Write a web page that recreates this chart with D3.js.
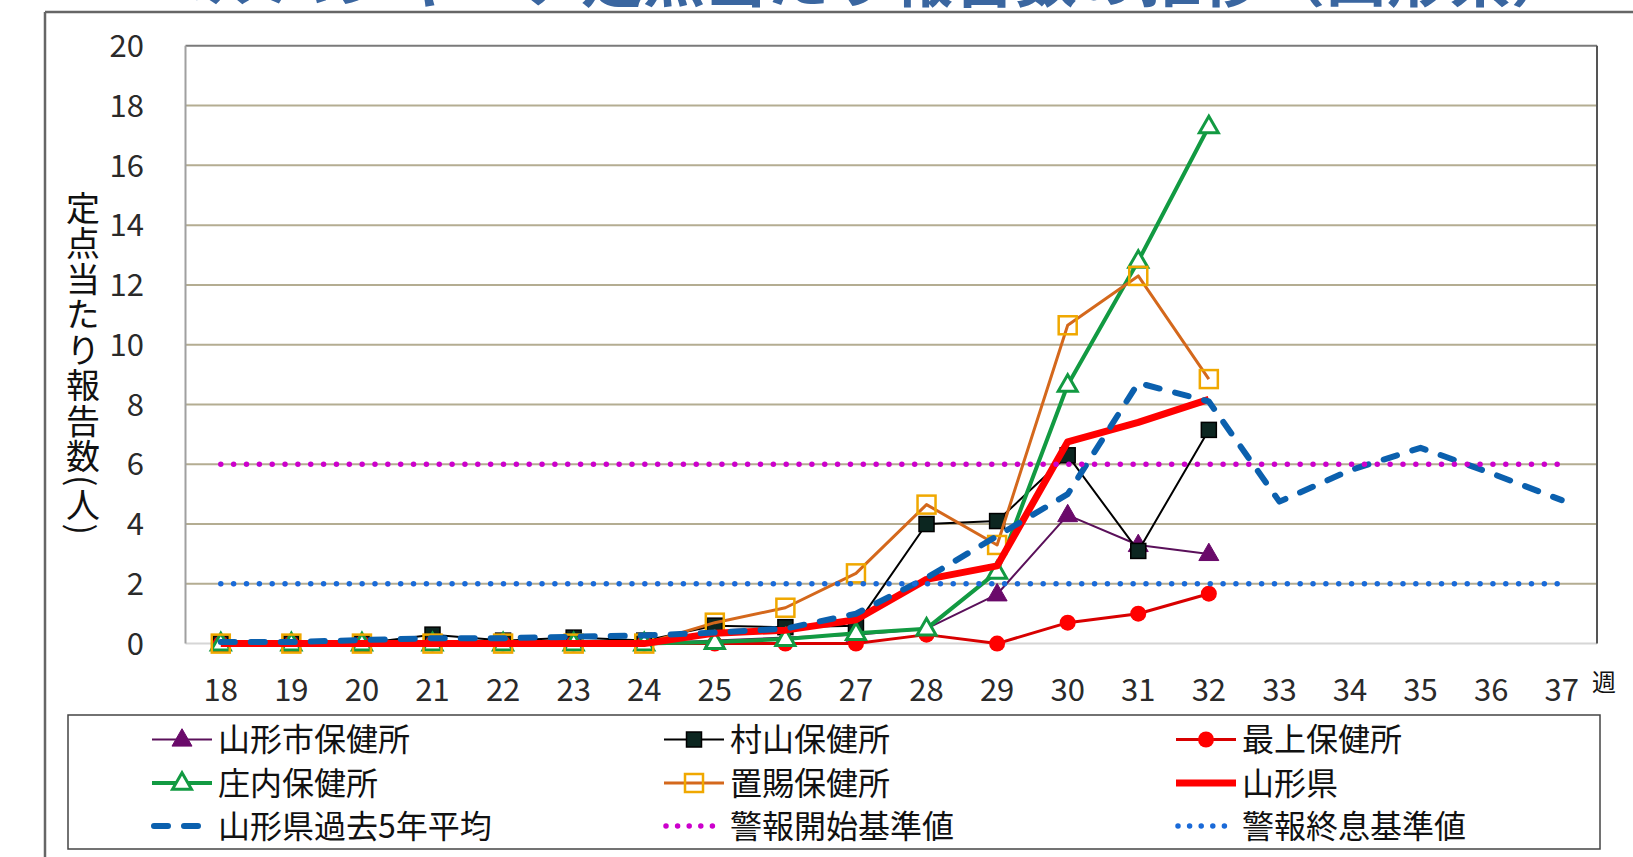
<!DOCTYPE html>
<html>
<head>
<meta charset="utf-8">
<script src="https://cdn.jsdelivr.net/npm/d3@7"></script>
<style>
  body { margin: 0; background: #fff; }
  svg text { font-family: "Noto Sans CJK JP", "Noto Sans", sans-serif; }
</style>
</head>
<body>
<div id="chart"></div>
<script>
// weeks and series (定点当たり報告数)
let weeks = d3.range(18, 38);
let dataWeeks = d3.range(18, 33);
let yTicks = [0, 2, 4, 6, 8, 10, 12, 14, 16, 18, 20];

let yamagataCity = [0, 0, 0, 0, 0, 0, 0, 0.1, 0.2, 0.3, 0.5, 1.65, 4.3, 3.3, 3.0];
let murayama     = [0, 0, 0, 0.3, 0.1, 0.2, 0.1, 0.6, 0.55, 0.6, 4.0, 4.1, 6.3, 3.1, 7.15];
let mogami       = [0, 0, 0, 0, 0, 0, 0, 0, 0, 0, 0.3, 0, 0.7, 1.0, 1.67];
let shonai       = [0, 0, 0, 0, 0, 0, 0, 0.05, 0.15, 0.35, 0.5, 2.4, 8.65, 12.8, 17.3];
let okitama      = [0, 0, 0, 0, 0, 0, 0, 0.7, 1.2, 2.35, 4.65, 3.3, 10.65, 12.3, 8.85];
let prefecture   = [0, 0, 0, 0, 0, 0, 0, 0.35, 0.45, 0.8, 2.15, 2.6, 6.75, 7.4, 8.17];
let avg5yr       = [0.05, 0.05, 0.12, 0.18, 0.18, 0.23, 0.27, 0.37, 0.5, 1.0, 2.2, 3.6, 5.0, 8.72, 8.1, 4.75, 5.8, 6.55, 5.7, 4.8];
let alertStart = 6;
let alertEnd = 2;

let svg = d3.select("#chart").append("svg")
    .attr("width", 1633)
    .attr("height", 857);

// title, cut off at the top edge as in the source
svg.append("text")
    .attr("x", 144)
    .attr("y", 2)
    .attr("fill", "#3a66a0")
    .attr("font-size", 62)
    .attr("font-weight", "bold")
    .text("ヘルパンギーナ定点当たり報告数の推移（山形県）");

// outer frame
svg.append("line").attr("x1", 45).attr("y1", 12).attr("x2", 1633).attr("y2", 12)
    .attr("stroke", "#666").attr("stroke-width", 2.5);
svg.append("line").attr("x1", 45).attr("y1", 12).attr("x2", 45).attr("y2", 857)
    .attr("stroke", "#666").attr("stroke-width", 2.5);

let x = d3.scaleBand()
    .domain(weeks)
    .range([185.5, 1597]);
let cx = w => x(w) + x.bandwidth() / 2;

let y = d3.scaleLinear()
    .domain([0, 20])
    .range([643.6, 45.8]);

// gridlines
yTicks.slice(1, -1).forEach(t =>
    svg.append("line")
    .attr("x1", 185.5).attr("x2", 1597)
    .attr("y1", y(t)).attr("y2", y(t))
    .attr("stroke", "#b4ad92")
    .attr("stroke-width", 2)
);

// plot frame
svg.append("line").attr("x1", 185.5).attr("x2", 1597).attr("y1", y(0)).attr("y2", y(0))
    .attr("stroke", "#d6d6d6").attr("stroke-width", 2);
svg.append("line").attr("x1", 185.5).attr("x2", 1597).attr("y1", y(20)).attr("y2", y(20))
    .attr("stroke", "#7a7a7a").attr("stroke-width", 2);
svg.append("line").attr("x1", 185.5).attr("x2", 185.5).attr("y1", y(20)).attr("y2", y(0))
    .attr("stroke", "#a0a0a0").attr("stroke-width", 2);
svg.append("line").attr("x1", 1597).attr("x2", 1597).attr("y1", y(20)).attr("y2", y(0))
    .attr("stroke", "#555").attr("stroke-width", 2);

// y tick labels
yTicks.forEach(t =>
    svg.append("text")
    .attr("x", 144)
    .attr("y", y(t))
    .attr("dy", "0.36em")
    .attr("text-anchor", "end")
    .attr("font-size", 31)
    .attr("fill", "#2a2a2a")
    .text(t)
);

// x tick labels
weeks.forEach(w =>
    svg.append("text")
    .attr("x", cx(w))
    .attr("y", 690)
    .attr("dy", "0.36em")
    .attr("text-anchor", "middle")
    .attr("font-size", 31)
    .attr("fill", "#2a2a2a")
    .text(w)
);

svg.append("text")
    .attr("x", 1604).attr("y", 682).attr("dy", "0.36em")
    .attr("text-anchor", "middle")
    .attr("font-size", 24)
    .attr("fill", "#111")
    .text("週");

// y axis title
svg.append("text")
    .attr("x", 83)
    .attr("y", 191)
    .attr("font-size", 34)
    .attr("letter-spacing", 1.5)
    .attr("fill", "#111")
    .style("writing-mode", "vertical-rl")
    .text("定点当たり報告数(人)");

let line = d3.line()
    .x((d, i) => cx(dataWeeks[i]))
    .y(d => y(d));
let lineAll = d3.line()
    .x((d, i) => cx(weeks[i]))
    .y(d => y(d));

// marker helpers
function triangle(g, px, py, s, fill, stroke, sw) {
    let h = s * 0.87;
    g.append("path")
        .attr("d", `M${px},${py - h * 0.62} L${px + s / 2},${py + h * 0.38} L${px - s / 2},${py + h * 0.38} Z`)
        .attr("fill", fill).attr("stroke", stroke).attr("stroke-width", sw);
}
function square(g, px, py, s, fill, stroke, sw) {
    g.append("rect")
        .attr("x", px - s / 2).attr("y", py - s / 2)
        .attr("width", s).attr("height", s)
        .attr("fill", fill).attr("stroke", stroke).attr("stroke-width", sw);
}
function circle(g, px, py, r, fill) {
    g.append("circle").attr("cx", px).attr("cy", py).attr("r", r).attr("fill", fill);
}

let series = [
    {name: "山形市保健所", values: yamagataCity, color: "#5a105a", width: 2,
     marker: (g, px, py) => triangle(g, px, py, 20, "#6a0a6a", "#6a0a6a", 1)},
    {name: "村山保健所", values: murayama, color: "#000", width: 2,
     marker: (g, px, py) => square(g, px, py, 15, "#0c2620", "#000", 1.5)},
    {name: "最上保健所", values: mogami, color: "#d80000", width: 3,
     marker: (g, px, py) => circle(g, px, py, 8, "#ff0000")},
    {name: "庄内保健所", values: shonai, color: "#129a42", width: 4,
     marker: (g, px, py) => triangle(g, px, py, 19, "#fff", "#129a42", 3)},
    {name: "置賜保健所", values: okitama, color: "#d4681c", width: 3,
     marker: (g, px, py) => square(g, px, py, 18, "none", "#f0a800", 2.5)},
    {name: "山形県", values: prefecture, color: "#ff0000", width: 7, marker: null}
];

series.forEach(s => {
    let g = svg.append("g");
    g.append("path")
        .datum(s.values)
        .attr("d", line)
        .attr("fill", "none")
        .attr("stroke", s.color)
        .attr("stroke-width", s.width)
        .attr("stroke-linejoin", "round");
    if (s.marker) s.values.forEach((v, i) => s.marker(g, cx(dataWeeks[i]), y(v)));
});

// 5-year average dashed
svg.append("path")
    .datum(avg5yr)
    .attr("d", lineAll)
    .attr("fill", "none")
    .attr("stroke", "#0b60ae")
    .attr("stroke-width", 6)
    .attr("stroke-linecap", "round")
    .attr("stroke-linejoin", "round")
    .attr("stroke-dasharray", "14,16");

// threshold dotted lines
[[alertStart, "#cc00cc"], [alertEnd, "#1a6ad8"]].forEach(([v, c]) =>
    svg.append("line")
    .attr("x1", cx(weeks[0])).attr("x2", cx(weeks[weeks.length - 1]))
    .attr("y1", y(v)).attr("y2", y(v))
    .attr("stroke", c)
    .attr("stroke-width", 5.5)
    .attr("stroke-linecap", "round")
    .attr("stroke-dasharray", "0,12.85")
);

// legend
svg.append("rect")
    .attr("x", 68).attr("y", 715)
    .attr("width", 1532).attr("height", 134)
    .attr("fill", "#fff")
    .attr("stroke", "#444")
    .attr("stroke-width", 1.5);

let legendItems = series.map(s => ({name: s.name, draw: (g, px, py) => {
    g.append("line").attr("x1", px - 30).attr("x2", px + 30).attr("y1", py).attr("y2", py)
        .attr("stroke", s.color).attr("stroke-width", s.width);
    if (s.marker) s.marker(g, px, py);
}}));
legendItems.push({name: "山形県過去5年平均", draw: (g, px, py) =>
    g.append("line").attr("x1", px - 28).attr("x2", px + 30).attr("y1", py).attr("y2", py)
        .attr("stroke", "#0b60ae").attr("stroke-width", 6)
        .attr("stroke-linecap", "round").attr("stroke-dasharray", "14,16")});
legendItems.push({name: "警報開始基準値", draw: (g, px, py) =>
    g.append("line").attr("x1", px - 28).attr("x2", px + 30).attr("y1", py).attr("y2", py)
        .attr("stroke", "#cc00cc").attr("stroke-width", 5.5)
        .attr("stroke-linecap", "round").attr("stroke-dasharray", "0,11.6")});
legendItems.push({name: "警報終息基準値", draw: (g, px, py) =>
    g.append("line").attr("x1", px - 28).attr("x2", px + 30).attr("y1", py).attr("y2", py)
        .attr("stroke", "#1a6ad8").attr("stroke-width", 5.5)
        .attr("stroke-linecap", "round").attr("stroke-dasharray", "0,11.6")});

let colX = [182, 694, 1206];
let rowY = [739.5, 783, 826];
legendItems.forEach((item, i) => {
    let px = colX[i % 3], py = rowY[Math.floor(i / 3)];
    let g = svg.append("g");
    item.draw(g, px, py);
    g.append("text")
        .attr("x", px + 36)
        .attr("y", py)
        .attr("dy", "0.36em")
        .attr("font-size", 32)
        .attr("fill", "#111")
        .text(item.name);
});
</script>
</body>
</html>
